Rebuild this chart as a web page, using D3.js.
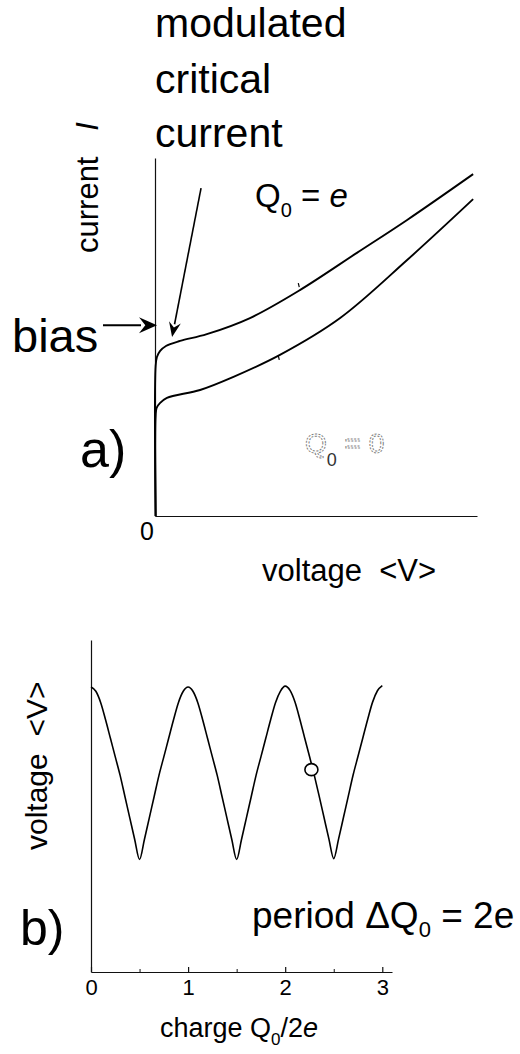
<!DOCTYPE html>
<html>
<head>
<meta charset="utf-8">
<script src="https://cdn.jsdelivr.net/npm/d3@7"></script>
<style>
  html, body { margin: 0; padding: 0; background: #fff; }
  svg { display: block; font-family: "Liberation Sans", Arial, Helvetica, sans-serif; }
  text { fill: #000; }
</style>
</head>
<body>
<script>
// ---------- Panel a: current–voltage characteristics ----------
// Q0 = e branch (upper curve)
const ivVoltageE = [0.02, 0.02, 0.06, 0.16, 0.34, 0.78, 1.61, 2.95, 4.50, 6.27, 7.83, 9.88];
const ivCurrentE = [0.00, 4.19, 4.44, 4.61, 4.75, 4.89, 5.08, 5.53, 6.31, 7.35, 8.27, 9.55];
// Q0 = 0 branch (lower curve)
const ivVoltage0 = [0.02, 0.02, 0.05, 0.16, 0.37, 1.40, 2.42, 3.88, 5.75, 7.83, 9.88];
const ivCurrent0 = [0.00, 2.79, 3.02, 3.16, 3.30, 3.52, 3.88, 4.50, 5.53, 7.15, 8.85];

// bias level and critical-current pointer, in data units
const biasCurrent = 5.33;
const pointerTip = [0.53, 5.0];
const pointerTail = [1.43, 9.16];

// ---------- Panel b: average voltage vs gate charge ----------
const charge = [
  0.00, 0.05, 0.10, 0.15, 0.20, 0.25, 0.30, 0.35, 0.40, 0.45,
  0.50, 0.55, 0.60, 0.65, 0.70, 0.75, 0.80, 0.85, 0.90, 0.95,
  1.00, 1.05, 1.10, 1.15, 1.20, 1.25, 1.30, 1.35, 1.40, 1.45,
  1.50, 1.55, 1.60, 1.65, 1.70, 1.75, 1.80, 1.85, 1.90, 1.95,
  2.00, 2.05, 2.10, 2.15, 2.20, 2.25, 2.30, 2.35, 2.40, 2.45,
  2.50, 2.55, 2.60, 2.65, 2.70, 2.75, 2.80, 2.85, 2.90, 2.95,
  3.00
];
const avgVoltage = [
  1.000, 0.985, 0.945, 0.885, 0.820, 0.755, 0.690, 0.615, 0.540, 0.465,
  0.395, 0.465, 0.540, 0.615, 0.690, 0.755, 0.820, 0.885, 0.945, 0.985,
  1.000, 0.985, 0.945, 0.885, 0.820, 0.755, 0.690, 0.615, 0.540, 0.465,
  0.395, 0.465, 0.540, 0.615, 0.690, 0.755, 0.820, 0.885, 0.945, 0.985,
  1.003, 0.988, 0.948, 0.888, 0.822, 0.757, 0.690, 0.617, 0.542, 0.467,
  0.398, 0.467, 0.542, 0.617, 0.692, 0.757, 0.822, 0.887, 0.947, 0.987,
  1.005
];
const chargeTicks = [0, 1, 2, 3];
const chargeMinorTicks = [0.5, 1.5, 2.5];
const operatingPoint = { q: 2.27, v: 0.71 };

const svg = d3.select("body").append("svg")
  .attr("width", 520).attr("height", 1054);

// ---------- panel a ----------
const xA = d3.scaleLinear().domain([0, 10]).range([155, 477]);
const yA = d3.scaleLinear().domain([0, 10]).range([516, 158]);

const gA = svg.append("g");

gA.append("g").attr("transform", `translate(0,${yA(0)})`)
  .call(d3.axisBottom(xA).tickValues([]).tickSizeOuter(0))
  .call(g => g.select(".domain").attr("stroke", "#111").attr("stroke-width", 1.2));
gA.append("g").attr("transform", `translate(${xA(0)},0)`)
  .call(d3.axisLeft(yA).tickValues([]).tickSizeOuter(0))
  .call(g => g.select(".domain").attr("stroke", "#111").attr("stroke-width", 1.2));

const ivLine = d3.line()
  .x(d => xA(d[0])).y(d => yA(d[1]))
  .curve(d3.curveCatmullRom.alpha(0.5));

const curveE = ivVoltageE.map((v, i) => [v, ivCurrentE[i]]);
const curve0 = ivVoltage0.map((v, i) => [v, ivCurrent0[i]]);

gA.append("path").datum(curveE).attr("d", ivLine)
  .attr("fill", "none").attr("stroke", "#000").attr("stroke-width", 1.9);
gA.append("path").datum(curve0).attr("d", ivLine)
  .attr("fill", "none").attr("stroke", "#000").attr("stroke-width", 1.9);

// small marks along the branches
gA.append("line")
  .attr("x1", xA(4.45)).attr("x2", xA(4.48))
  .attr("y1", yA(6.31) - 7).attr("y2", yA(6.31) - 3)
  .attr("stroke", "#000").attr("stroke-width", 1.2);
gA.append("line")
  .attr("x1", xA(3.83)).attr("x2", xA(3.86))
  .attr("y1", yA(4.50) + 1).attr("y2", yA(4.50) + 5)
  .attr("stroke", "#000").attr("stroke-width", 1.2);

function arrow(g, x1, y1, x2, y2, len, half, sw) {
  const a = Math.atan2(y2 - y1, x2 - x1);
  const bx = x2 - len * Math.cos(a), by = y2 - len * Math.sin(a);
  g.append("line")
    .attr("x1", x1).attr("y1", y1).attr("x2", bx + 2 * Math.cos(a)).attr("y2", by + 2 * Math.sin(a))
    .attr("stroke", "#000").attr("stroke-width", sw);
  const px = -Math.sin(a) * half, py = Math.cos(a) * half;
  g.append("path")
    .attr("d", `M${x2},${y2}L${bx + px},${by + py}L${bx + 0.35 * len * Math.cos(a)},${by + 0.35 * len * Math.sin(a)}L${bx - px},${by - py}Z`)
    .attr("fill", "#000");
}

// bias arrow pointing at the current axis
arrow(gA, 103, yA(biasCurrent), xA(0) + 2, yA(biasCurrent), 18, 8, 2);
// pointer to the critical current knee
arrow(gA, xA(pointerTail[0]), yA(pointerTail[1]), xA(pointerTip[0]), yA(pointerTip[1]), 15, 6, 1.6);

// top annotation
const noteLines = ["modulated", "critical", "current"];
const noteBaselines = [37, 93, 147];
noteLines.forEach((t, i) => {
  svg.append("text").attr("x", 155).attr("y", noteBaselines[i])
    .attr("font-size", 41).text(t);
});

svg.append("text").attr("x", 12).attr("y", 352).attr("font-size", 47).text("bias");

// y label panel a
const yLabA = svg.append("text")
  .attr("transform", "translate(98,253) rotate(-90)")
  .attr("font-size", 31);
yLabA.append("tspan").text("current\u00a0\u00a0\u00a0");
yLabA.append("tspan").attr("font-style", "italic").text("I");

// Q0 = e
const lblE = svg.append("text").attr("x", 255).attr("y", 207).attr("font-size", 33);
lblE.append("tspan").text("Q");
lblE.append("tspan").attr("font-size", 20).attr("dy", 10).text("0");
lblE.append("tspan").attr("dy", -10).text(" = ");
lblE.append("tspan").attr("font-style", "italic").text("e");

// Q0 = 0 (faint outlined)
const lbl0 = svg.append("text").attr("x", 305).attr("y", 453).attr("font-size", 28)
  .style("fill", "none").attr("stroke", "#808080").attr("stroke-width", 1)
  .attr("stroke-dasharray", "2 1.4");
lbl0.append("tspan").text("Q");
lbl0.append("tspan").attr("font-size", 18).attr("dy", 13).style("fill", "#333").attr("stroke", "none").text("0");
lbl0.append("tspan").attr("dy", -13).text(" = 0");

svg.append("text").attr("x", 80).attr("y", 467).attr("font-size", 52).text("a)");
svg.append("text").attr("x", 147).attr("y", 540).attr("text-anchor", "middle")
  .attr("font-size", 25).text("0");

svg.append("text").attr("x", 262).attr("y", 581).attr("font-size", 31)
  .text("voltage\u00a0\u00a0<V>");

// ---------- panel b ----------
const xB = d3.scaleLinear().domain([0, 3.1]).range([91, 392]);
const yB = d3.scaleLinear().domain([0, 1.165]).range([972, 640]);

const gB = svg.append("g");

gB.append("g").attr("transform", `translate(0,${yB(0)})`)
  .call(d3.axisBottom(xB).tickValues(chargeMinorTicks).tickSizeInner(-3).tickSizeOuter(0).tickFormat(""))
  .call(g => g.select(".domain").remove())
  .call(g => g.selectAll(".tick line").attr("stroke", "#111"));

gB.append("g").attr("transform", `translate(0,${yB(0)})`)
  .call(d3.axisBottom(xB).tickValues(chargeTicks).tickSizeInner(-5).tickSizeOuter(0)
    .tickPadding(7).tickFormat(d3.format("d")))
  .call(g => g.select(".domain").attr("stroke", "#111").attr("stroke-width", 1.2))
  .call(g => g.selectAll(".tick line").attr("stroke", "#111").attr("stroke-width", 1.2))
  .call(g => g.selectAll(".tick text").attr("font-size", 22).attr("fill", "#000")
    .attr("font-family", "Liberation Sans, Arial, sans-serif"));

gB.append("g").attr("transform", `translate(${xB(0)},0)`)
  .call(d3.axisLeft(yB).tickValues([]).tickSizeOuter(0))
  .call(g => g.select(".domain").attr("stroke", "#111").attr("stroke-width", 1.2));

const vLine = d3.line()
  .x((d, i) => xB(charge[i])).y(d => yB(d))
  .curve(d3.curveMonotoneX);

gB.append("path").datum(avgVoltage).attr("d", vLine)
  .attr("fill", "none").attr("stroke", "#000").attr("stroke-width", 1.6);

gB.append("ellipse")
  .attr("cx", xB(operatingPoint.q)).attr("cy", yB(operatingPoint.v))
  .attr("rx", 6.5).attr("ry", 6)
  .attr("fill", "#fff").attr("stroke", "#000").attr("stroke-width", 1.6);

svg.append("text")
  .attr("transform", "translate(47,850) rotate(-90)")
  .attr("font-size", 30)
  .text("voltage\u00a0\u00a0<V>");

svg.append("text").attr("x", 20).attr("y", 945).attr("font-size", 50).text("b)");

const per = svg.append("text").attr("x", 252).attr("y", 928).attr("font-size", 37);
per.append("tspan").text("period \u0394Q");
per.append("tspan").attr("font-size", 22).attr("dy", 9).text("0");
per.append("tspan").attr("dy", -9).text(" = 2e");

const xl = svg.append("text").attr("x", 160).attr("y", 1037).attr("font-size", 27);
xl.append("tspan").text("charge Q");
xl.append("tspan").attr("font-size", 17).attr("dy", 8).text("0");
xl.append("tspan").attr("dy", -8).text("/2");
xl.append("tspan").attr("font-style", "italic").text("e");
</script>
</body>
</html>
